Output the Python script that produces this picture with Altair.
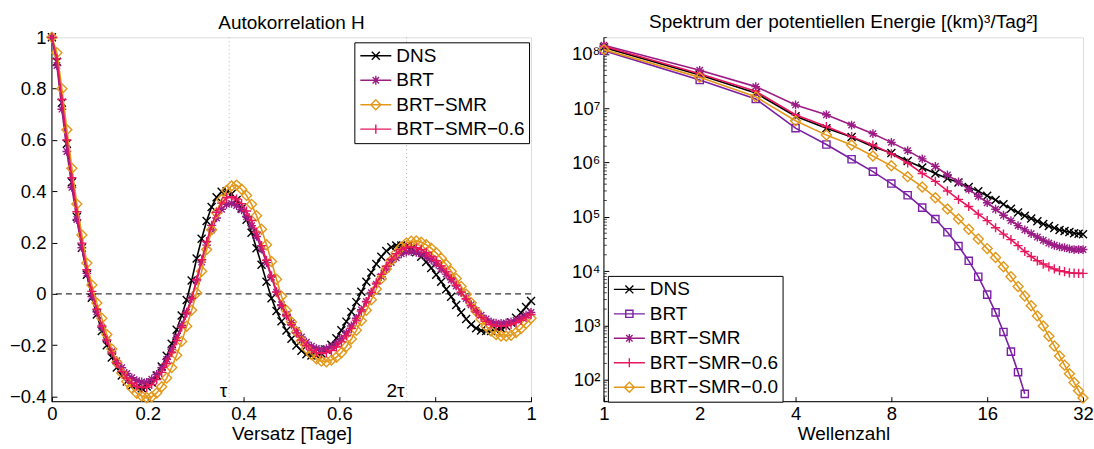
import re
import altair as alt
import pandas as pd

FONT = "Liberation Sans"

# ---------------- left panel: autocorrelation of H ----------------
LAG = [i / 96 for i in range(97)]  # lag in days, 15-minute steps
AC_SERIES = ["DNS", "BRT", "BRT−SMR", "BRT−SMR−0.6"]
AC_DNS = [1.0, .905, .745, .585, .435, .300, .180, .075, -.015, -.080,
          -.145, -.200, -.248, -.287, -.318, -.341, -.358, -.366, -.368, -.361,
          -.345, -.318, -.283, -.241, -.194, -.140, -.084, -.024, .052, .138,
          .215, .284, .339, .377, .398, .400, .389, .366, .333, .289,
          .238, .178, .114, .047, -.017, -.067, -.107, -.143, -.175, -.201,
          -.222, -.235, -.240, -.239, -.232, -.218, -.198, -.173, -.142, -.108,
          -.070, -.032, .008, .047, .083, .117, .145, .167, .182, .189,
          .189, .185, .176, .162, .145, .124, .101, .075, .047, .018,
          -.011, -.043, -.072, -.098, -.119, -.134, -.143, -.145, -.145, -.142,
          -.135, -.125, -.111, -.093, -.073, -.051, -.028]
AC_BRT = [1.0, .890, .720, .555, .415, .290, .180, .080, -.010, -.070,
          -.130, -.180, -.225, -.260, -.288, -.310, -.327, -.338, -.343, -.345,
          -.332, -.314, -.288, -.255, -.215, -.171, -.122, -.071, -.017, .051,
          .124, .190, .249, .296, .330, .349, .353, .344, .328, .301,
          .266, .224, .175, .122, .065, .007, -.042, -.079, -.112, -.142,
          -.168, -.188, -.204, -.213, -.216, -.213, -.206, -.193, -.174, -.152,
          -.125, -.095, -.062, -.029, .005, .038, .068, .097, .122, .141,
          .156, .163, .165, .162, .156, .146, .132, .116, .098, .077,
          .055, .031, .006, -.018, -.042, -.064, -.083, -.098, -.109, -.114,
          -.115, -.113, -.109, -.102, -.094, -.083, -.072]
AC_SMR = [1.0, .940, .800, .640, .490, .350, .230, .120, .035, -.035,
          -.095, -.158, -.215, -.266, -.308, -.341, -.367, -.387, -.398, -.405,
          -.401, -.386, -.362, -.328, -.287, -.239, -.185, -.126, -.064, .004,
          .088, .173, .250, .316, .368, .403, .421, .424, .408, .384,
          .349, .305, .252, .192, .126, .057, -.009, -.065, -.109, -.148,
          -.183, -.213, -.236, -.253, -.262, -.264, -.258, -.247, -.229, -.205,
          -.176, -.142, -.105, -.064, -.023, .019, .059, .097, .131, .160,
          .183, .198, .205, .206, .201, .192, .178, .160, .139, .115,
          .088, .060, .029, -.001, -.034, -.068, -.099, -.126, -.145, -.158,
          -.164, -.164, -.161, -.150, -.135, -.115, -.095]
AC_SMR06 = [1.0, .916, .758, .600, .453, .320, .198, .094, .010, -.060,
            -.125, -.180, -.230, -.270, -.303, -.328, -.348, -.360, -.365, -.364,
            -.353, -.334, -.306, -.271, -.229, -.182, -.130, -.075, -.018, .055,
            .133, .204, .267, .318, .354, .375, .379, .370, .352, .323,
            .286, .241, .188, .131, .070, .008, -.045, -.085, -.120, -.152,
            -.180, -.202, -.219, -.229, -.232, -.229, -.221, -.207, -.187, -.163,
            -.134, -.102, -.067, -.031, .006, .042, .076, .108, .135, .157,
            .173, .181, .183, .180, .173, .162, .147, .129, .109, .086,
            .061, .034, .007, -.020, -.046, -.070, -.091, -.107, -.119, -.125,
            -.126, -.124, -.119, -.112, -.103, -.092, -.080]
AC_COLORS = ["#000000", "#9C1C86", "#E3981A", "#E6175C"]
TAU = [0.37, 0.74]
TAU_LABELS = ["τ", "2τ"]
AC_XDOMAIN = [0, 1]
AC_YDOMAIN = [-0.42, 1.0]
AC_XTICKS = [0, 0.2, 0.4, 0.6, 0.8, 1.0]
AC_YTICKS = [-0.4, -0.2, 0, 0.2, 0.4, 0.6, 0.8, 1.0]

# ---------------- right panel: potential energy spectrum ----------------
K = list(range(1, 33))
SP_SERIES = ["DNS", "BRT", "BRT−SMR", "BRT−SMR−0.6", "BRT−SMR−0.0"]
SP_DNS = [1.32e8, 4.1e7, 1.9e7, 7.1e6, 4.3e6, 2.95e6, 1.95e6, 1.5e6, 1.07e6, 8.1e5,
          6.3e5, 5.1e5, 4.3e5, 3.55e5, 2.95e5, 2.45e5, 2.05e5, 1.7e5, 1.41e5, 1.2e5,
          1.05e5, 9.3e4, 8.3e4, 7.4e4, 6.8e4, 6.2e4, 5.75e4, 5.5e4, 5.25e4, 5.0e4,
          4.9e4, 4.8e4]
SP_BRT = [1.15e8, 3.3e7, 1.48e7, 4.3e6, 2.15e6, 1.15e6, 6.8e5, 4.1e5, 2.5e5, 1.48e5,
          9.1e4, 5.2e4, 2.9e4, 1.55e4, 7.9e3, 3.7e3, 1.74e3, 760, 330, 138, 55]
SP_SMR = [1.45e8, 5.0e7, 2.5e7, 1.15e7, 7.6e6, 4.9e6, 3.4e6, 2.35e6, 1.66e6, 1.17e6,
          8.5e5, 5.9e5, 4.4e5, 3.2e5, 2.4e5, 1.82e5, 1.38e5, 1.07e5, 8.5e4, 6.9e4,
          5.75e4, 4.9e4, 4.25e4, 3.7e4, 3.3e4, 3.0e4, 2.8e4, 2.7e4, 2.57e4, 2.5e4,
          2.5e4, 2.5e4]
SP_SMR06 = [1.38e8, 4.3e7, 2.05e7, 7.6e6, 4.6e6, 3.0e6, 2.1e6, 1.45e6, 9.8e5, 6.3e5,
            4.5e5, 3.0e5, 2.1e5, 1.55e5, 1.12e5, 8.5e4, 6.3e4, 4.8e4, 3.8e4, 2.95e4,
            2.3e4, 1.86e4, 1.55e4, 1.35e4, 1.2e4, 1.1e4, 1.02e4, 9.8e3, 9.3e3, 9.2e3,
            9.1e3, 9.1e3]
SP_SMR00 = [1.2e8, 3.7e7, 1.62e7, 5.9e6, 3.2e6, 2.1e6, 1.32e6, 8.7e5, 5.5e5, 3.55e5,
            2.25e5, 1.4e5, 9.1e4, 5.9e4, 3.9e4, 2.6e4, 1.78e4, 1.2e4, 7.9e3, 5.2e3,
            3.5e3, 2.3e3, 1.5e3, 980, 630, 420, 275, 186, 129, 89,
            63, 46]
SP_COLORS = ["#000000", "#7B20A4", "#9C1C86", "#E6175C", "#E3981A"]
SP_XDOMAIN = [1, 32]
SP_YDOMAIN = [39.5, 2.02e8]
SP_XTICKS = [1, 2, 4, 8, 16, 32]
SP_YTICKS = [1e2, 1e3, 1e4, 1e5, 1e6, 1e7, 1e8]
SP_YMINOR = [m * 10 ** e for e in range(1, 9) for m in range(2, 10)
             if SP_YDOMAIN[0] <= m * 10 ** e <= SP_YDOMAIN[1]]

# ---------------- marker paths (unit square -1..1) ----------------
P_X = "M-1,-1L1,1M-1,1L1,-1"
P_AST = "M-1.1,0L1.1,0M0,-1.1L0,1.1M-0.8,-0.8L0.8,0.8M-0.8,0.8L0.8,-0.8"
P_DIA = "M0,-1.25L1.25,0L0,1.25L-1.25,0Z"
P_PLUS = "M-1.15,0L1.15,0M0,-1.15L0,1.15"
P_SQ = "M-0.9,-0.9L0.9,-0.9L0.9,0.9L-0.9,0.9Z"

AC_SHAPES = [P_X, P_AST, P_DIA, P_PLUS]
SP_SHAPES = [P_X, P_SQ, P_AST, P_PLUS, P_DIA]

MARK_SIZE = 64            # plotted markers: 8 px box
LEG_SIZE = 1024           # legend symbol: 32 px box (line + marker)
LEG_SCALE = (MARK_SIZE / LEG_SIZE) ** 0.5


def scale_path(p, f):
    return re.sub(r"-?\d+(?:\.\d+)?", lambda m: f"{float(m.group()) * f:.3f}", p)


def legend_path(p):
    return "M-0.97,0L0.97,0" + scale_path(p, LEG_SCALE)


def make_legend(lx, ly):
    return alt.Legend(
        title=None, orient="none", legendX=lx, legendY=ly, direction="vertical",
        fillColor="white", strokeColor="black", padding=4, cornerRadius=0,
        labelFont=FONT, labelFontSize=19, labelColor="black",
        symbolSize=LEG_SIZE, symbolStrokeWidth=1.4, symbolOffset=0.5, labelOffset=3.5,
        clipHeight=19, rowPadding=4.5)


AXIS_COMMON = dict(grid=False, domain=False, tickColor="black", tickWidth=1,
                   labelFont=FONT, labelFontSize=18.5, labelColor="black",
                   titleFont=FONT, titleFontSize=19, titleFontWeight="normal",
                   titleColor="black", labelFlush=False, labelOverlap=False)


def series_layers(xname, xs, arrays, X, Y, series, colors, shapes, lx, ly):
    layers = []
    first_rows = []
    for s, arr, col, shp in zip(series, arrays, colors, shapes):
        df = pd.DataFrame({xname: xs[:len(arr)], "value": arr, "series": s})
        first_rows.append(df.iloc[0])
        layers.append(alt.Chart(df).mark_line(strokeWidth=1.6, color=col).encode(x=X, y=Y))
        layers.append(alt.Chart(df).mark_point(filled=False, size=MARK_SIZE, strokeWidth=1.4,
                                               color=col, opacity=1, shape=shp).encode(x=X, y=Y))
    # legend carrier: invisible marks whose legend shows line + marker symbols
    leg_df = pd.DataFrame(first_rows)
    leg_shapes = [legend_path(p) for p in shapes]
    layers.append(alt.Chart(leg_df).mark_point(filled=False, size=LEG_SIZE, opacity=0).encode(
        x=X, y=Y,
        color=alt.Color("series:N", scale=alt.Scale(domain=series, range=colors),
                        legend=make_legend(lx, ly)),
        shape=alt.Shape("series:N", scale=alt.Scale(domain=series, range=leg_shapes),
                        legend=make_legend(lx, ly))))
    return layers


def title(text, offset):
    return alt.TitleParams(text, font=FONT, fontSize=19, fontWeight="normal", color="black",
                           offset=offset, anchor="middle", baseline="alphabetic")


# ---------------- left chart ----------------
XL = alt.X("lag:Q", scale=alt.Scale(domain=AC_XDOMAIN, nice=False, zero=False),
           axis=alt.Axis(values=AC_XTICKS, format=".1~f", tickSize=5, offset=-5,
                         labelPadding=3, title="Versatz [Tage]", titlePadding=1,
                         **AXIS_COMMON))
YL = alt.Y("value:Q", scale=alt.Scale(domain=AC_YDOMAIN, nice=False, zero=False),
           axis=alt.Axis(values=AC_YTICKS, format=".1~f", tickSize=5, offset=-5,
                         labelPadding=6, title=None, **AXIS_COMMON))

l_domx = alt.Chart(pd.DataFrame({"lag": [AC_XDOMAIN[0]]})).mark_rule(color="black", strokeWidth=1).encode(x=XL)
l_domy = alt.Chart(pd.DataFrame({"value": [AC_YDOMAIN[0]]})).mark_rule(color="black", strokeWidth=1).encode(y=YL)
l_zero = alt.Chart(pd.DataFrame({"value": [0.0]})).mark_rule(
    color="black", strokeWidth=1, strokeDash=[6, 4]).encode(y=YL)
tau_df = pd.DataFrame({"lag": TAU, "label": TAU_LABELS})
l_tau = alt.Chart(tau_df).mark_rule(color="#b4b4b4", strokeWidth=1, strokeDash=[1, 3]).encode(x=XL)
l_taut = alt.Chart(tau_df).mark_text(
    align="right", baseline="bottom", dx=-2, dy=-1, font=FONT, fontSize=19, color="black"
).encode(x=XL, y=alt.datum(AC_YDOMAIN[0]), text="label:N")

l_series = series_layers("lag", LAG, [AC_DNS, AC_BRT, AC_SMR, AC_SMR06], XL, YL,
                         AC_SERIES, AC_COLORS, AC_SHAPES, 303, 5)

left = alt.layer(l_tau, l_zero, l_domx, l_domy, l_taut, *l_series).properties(
    width=480, height=365, title=title("Autokorrelation H", -19.85))

# ---------------- right chart ----------------
sup = "['⁰','¹','²','³','⁴','⁵','⁶','⁷','⁸','⁹']"
XR = alt.X("k:Q", scale=alt.Scale(type="log", base=2, domain=SP_XDOMAIN, nice=False),
           axis=alt.Axis(values=SP_XTICKS, format="d", tickSize=5, offset=-5,
                         labelPadding=3, title="Wellenzahl", titlePadding=1, **AXIS_COMMON))
YR = alt.Y("value:Q", scale=alt.Scale(type="log", domain=SP_YDOMAIN, nice=False),
           axis=alt.Axis(values=SP_YTICKS, tickSize=5, offset=-5, labelPadding=4, title=None,
                         labelExpr="'10' + " + sup + "[round(log(datum.value) / LN10)]",
                         **AXIS_COMMON))

r_domx = alt.Chart(pd.DataFrame({"k": [SP_XDOMAIN[0]]})).mark_rule(color="black", strokeWidth=1).encode(x=XR)
r_domy = alt.Chart(pd.DataFrame({"value": [SP_YDOMAIN[0]]})).mark_rule(color="black", strokeWidth=1).encode(y=YR)
r_minor = alt.Chart(pd.DataFrame({"value": SP_YMINOR, "k": SP_XDOMAIN[0]})).mark_tick(
    color="black", thickness=1, size=3, xOffset=1.5, orient="horizontal").encode(x=XR, y=YR)

r_series = series_layers("k", K, [SP_DNS, SP_BRT, SP_SMR, SP_SMR06, SP_SMR00], XR, YR,
                         SP_SERIES, SP_COLORS, SP_SHAPES, 4, 239)

right = alt.layer(r_domx, r_domy, r_minor, *r_series).properties(
    width=480, height=365, title=title("Spektrum der potentiellen Energie [(km)³/Tag²]", -10.6))

chart = alt.hconcat(left, right, spacing=73, bounds="flush").resolve_scale(
    color="independent", shape="independent").properties(
    padding={"left": 8, "top": 12, "right": 0, "bottom": 0}
).configure_view(stroke=None).configure(background="white")

chart.save("out.html", embed_options={"renderer": "svg", "actions": False})
